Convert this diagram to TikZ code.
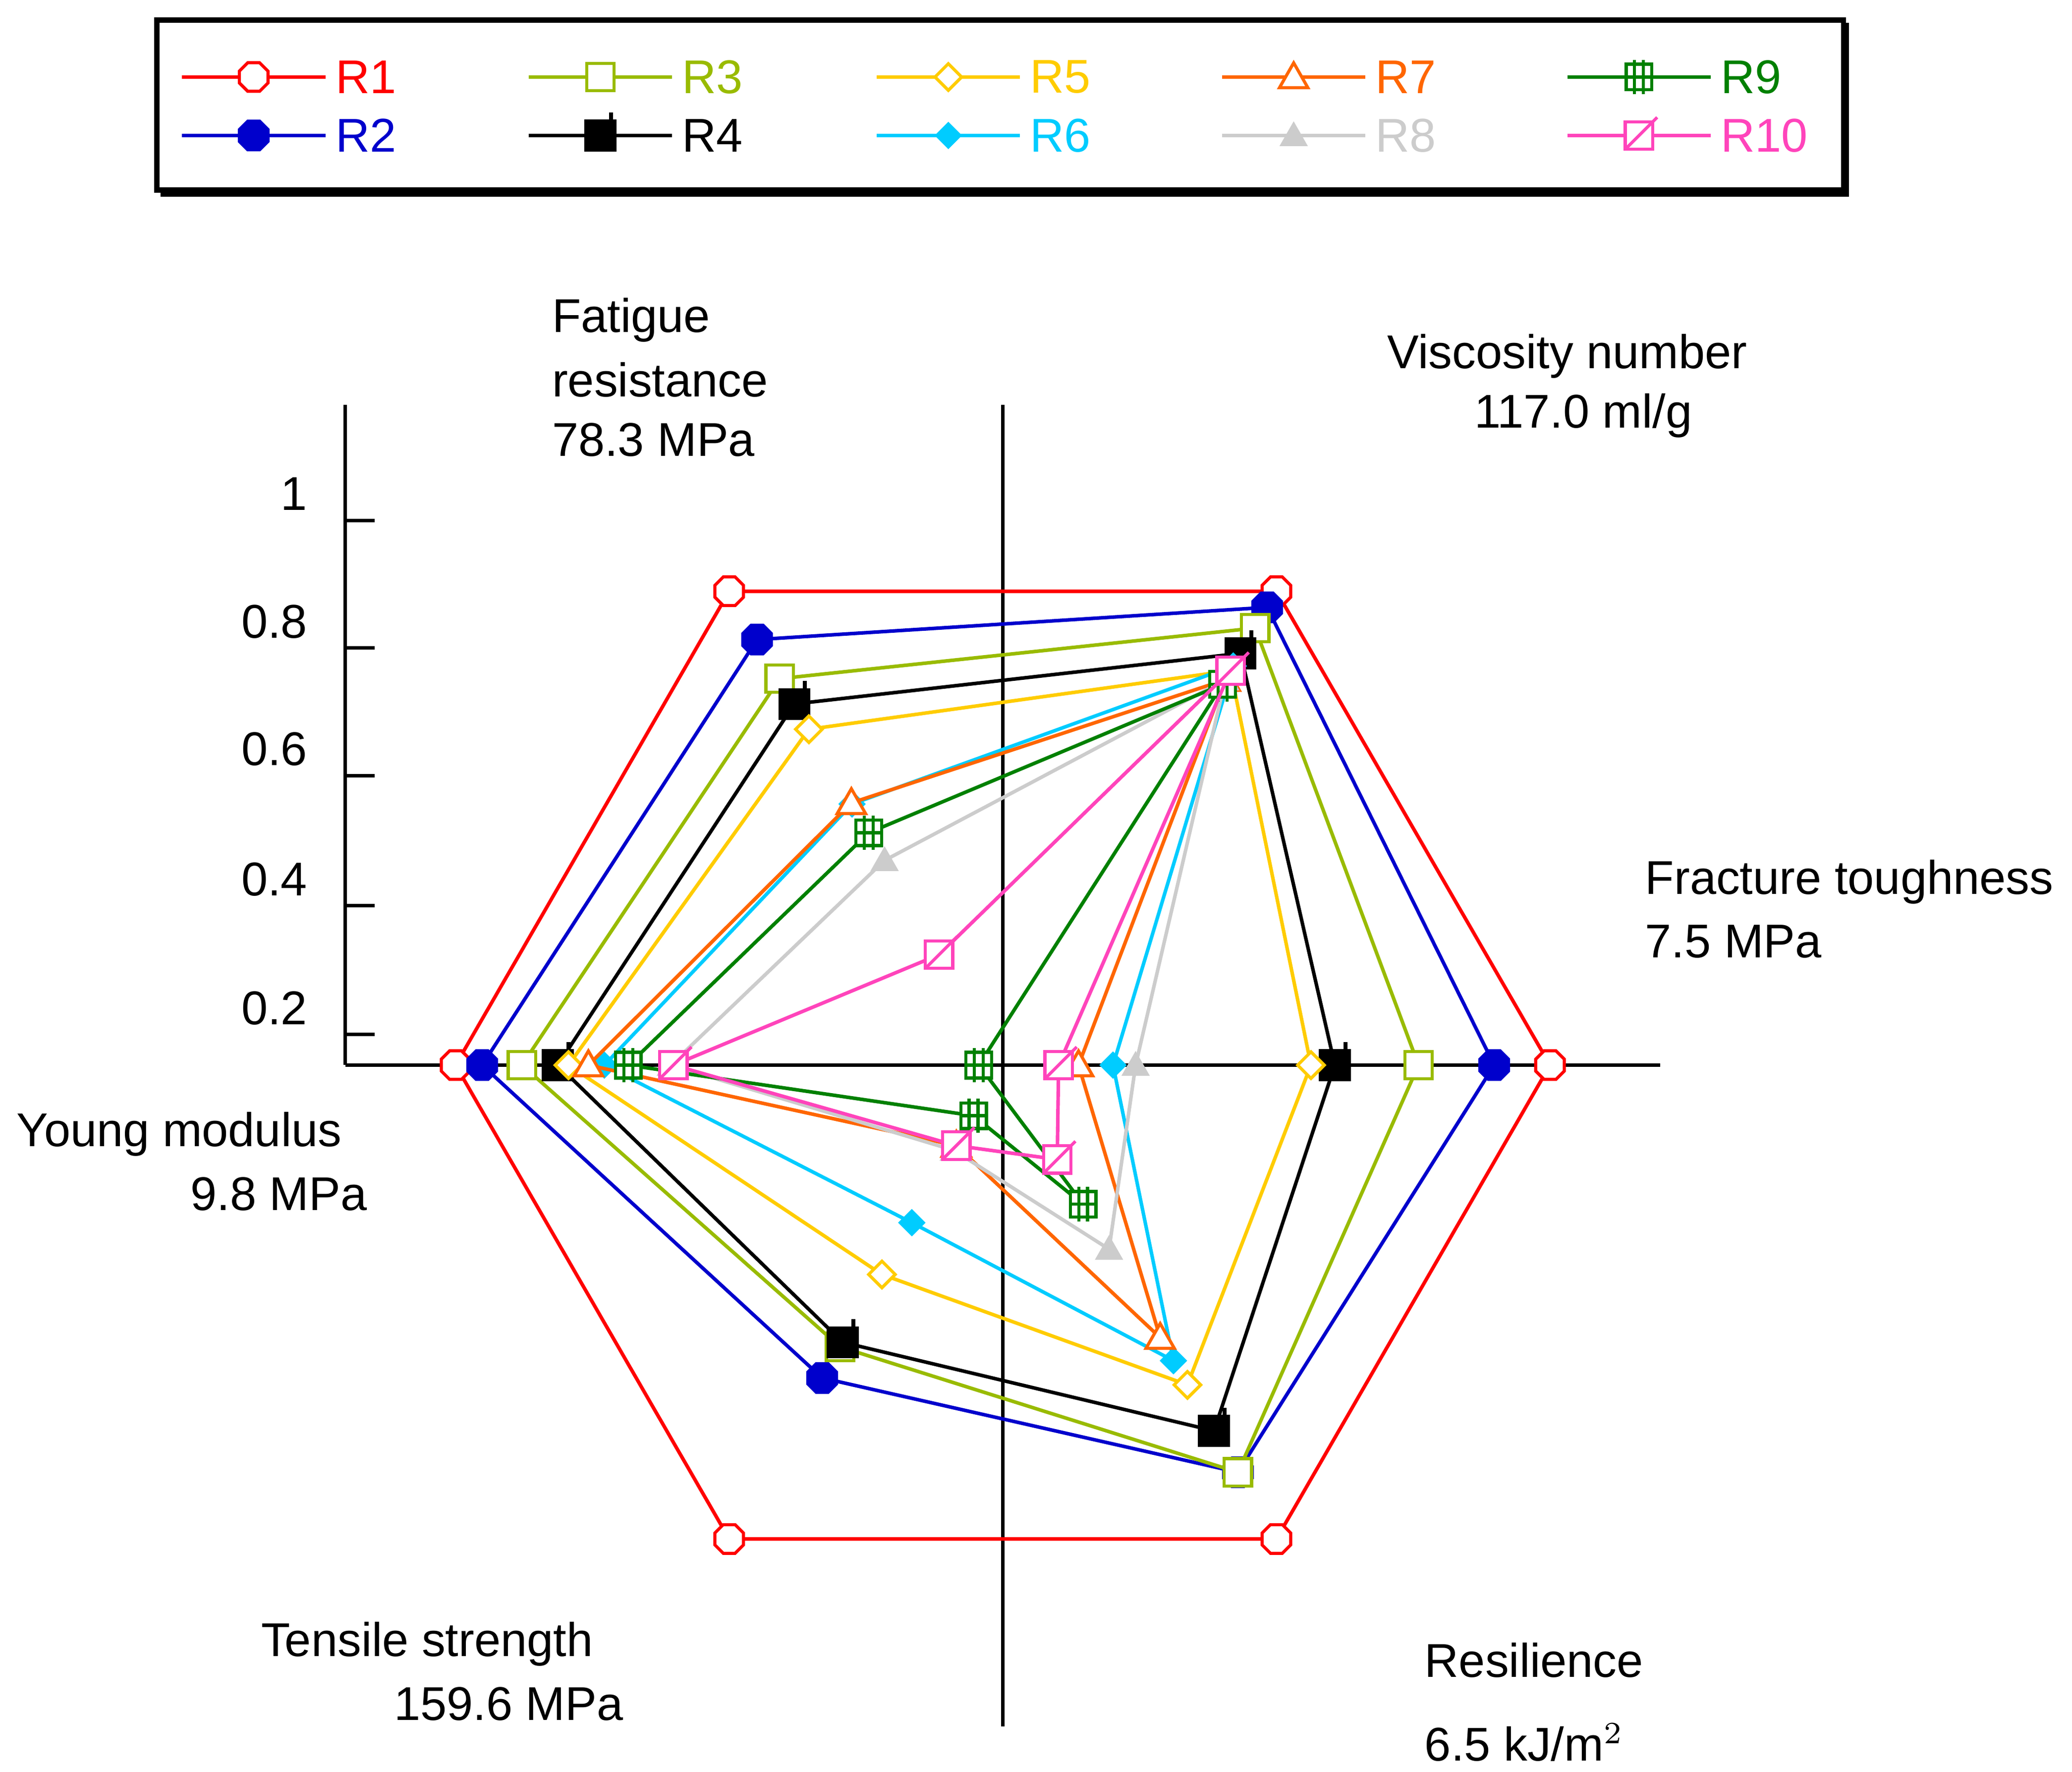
\documentclass[tikz,border=0pt]{standalone}
\usepackage{fontspec}
\setmainfont{Liberation Sans}
\usetikzlibrary{shapes.geometric}
\definecolor{cR1}{HTML}{FF0000}
\definecolor{cR2}{HTML}{0000CC}
\definecolor{cR3}{HTML}{99BB00}
\definecolor{cR4}{HTML}{000000}
\definecolor{cR5}{HTML}{FFCC00}
\definecolor{cR6}{HTML}{00CCFF}
\definecolor{cR7}{HTML}{FF6600}
\definecolor{cR8}{HTML}{CCCCCC}
\definecolor{cR9}{HTML}{008000}
\definecolor{cR10}{HTML}{FF44BB}
\tikzset{
 lbl/.style={font=\fontsize{10.7}{13}\selectfont,inner sep=0pt},
 ser/.style={line width=0.8pt,line join=round},
 axis/.style={line width=0.8pt,black},
 mk1/.pic={\node[regular polygon,regular polygon sides=8,draw=cR1,fill=white,minimum size=7pt,inner sep=0pt,line width=0.7pt]{};},
 mk2/.pic={\node[regular polygon,regular polygon sides=8,draw=cR2,fill=cR2,minimum size=7pt,inner sep=0pt,line width=0.7pt]{};},
 mk3/.pic={\draw[cR3,fill=white,line width=0.7pt](-3.1pt,-3.1pt) rectangle (3.1pt,3.1pt);},
 mk4/.pic={\fill[black](-3.6pt,-3.6pt) rectangle (3.6pt,3.6pt);\draw[black,line width=0.9pt](2.4pt,0pt)--(2.4pt,5.2pt);},
 mk5/.pic={\draw[cR5,fill=white,line width=0.7pt](0,-3pt)--(3pt,0)--(0,3pt)--(-3pt,0)--cycle;},
 mk6/.pic={\fill[cR6](0,-3.1pt)--(3.1pt,0)--(0,3.1pt)--(-3.1pt,0)--cycle;},
 mk7/.pic={\draw[cR7,fill=white,line width=0.7pt](-3.2pt,-2.4pt)--(3.2pt,-2.4pt)--(0,3.2pt)--cycle;},
 mk8/.pic={\fill[cR8](-3.2pt,-2.4pt)--(3.2pt,-2.4pt)--(0,3.2pt)--cycle;},
 mk9/.pic={\draw[cR9,fill=white,line width=0.7pt](-2.9pt,-2.9pt) rectangle (2.9pt,2.9pt);
   \draw[cR9,line width=0.7pt](-1pt,-3.9pt)--(-1pt,3.9pt) (1pt,-3.9pt)--(1pt,3.9pt) (-2.9pt,0)--(2.9pt,0);},
 mk10/.pic={\draw[cR10,fill=white,line width=0.7pt](-3.1pt,-3.1pt) rectangle (3.1pt,3.1pt);
   \draw[cR10,line width=0.7pt](-3.1pt,-3.1pt)--(4.1pt,4.1pt);},
}
\newcommand\radar[3]{%
 \foreach \r [count=\i] in {#3}{%
   \pgfmathsetmacro\a{180-60*\i}%
   \coordinate (p#1-\i) at ({755+\r*cos(\a)},{802-\r*sin(\a)});}
 \draw[ser,c#1] (p#1-1)--(p#1-2)--(p#1-3)--(p#1-4)--(p#1-5)--(p#1-6)--cycle;
 \foreach \i in {1,...,6}{\pic at (p#1-\i) {#2};}
}
\newcommand\legentry[4]{% name, x, y, marker
 \coordinate (l#1a) at (#2,#3); \coordinate (l#1b) at ({#2+108},#3);
 \draw[ser,c#1] (l#1a)--(l#1b);
 \pic at ({#2+54},#3) {#4};
 \node[lbl,anchor=west,text=c#1] (t#1) at ({#2+115},#3) {#1};
}
\begin{document}
\begin{tikzpicture}[x=0.3pt,y=-0.3pt]
\useasboundingbox (0,0) rectangle (1560,1334);
% legend
\draw[line width=1.2pt] (118,15) rectangle (1388,143);
\draw[line width=1.2pt] (1390,17)--(1390,146)--(121,146);
\legentry{R1}{137}{58}{mk1}
\legentry{R2}{137}{102}{mk2}
\legentry{R3}{398}{58}{mk3}
\legentry{R4}{398}{102}{mk4}
\legentry{R5}{660}{58}{mk5}
\legentry{R6}{660}{102}{mk6}
\legentry{R7}{920}{58}{mk7}
\legentry{R8}{920}{102}{mk8}
\legentry{R9}{1180}{58}{mk9}
\legentry{R10}{1180}{102}{mk10}
% axes
\coordinate (vt) at (755,305); \coordinate (vb) at (755,1300);
\coordinate (hl) at (260,802); \coordinate (hr) at (1250,802);
\coordinate (st) at (260,305);
\draw[axis] (vt)--(vb);
\draw[axis] (hl)--(hr);
\draw[axis] (st)--(hl);
\foreach \y/\t in {392/1,488/0.8,584/0.6,682/0.4,779/0.2}{
  \draw[axis] (260,\y)--(282,\y);
  \node[lbl,anchor=east] at (232,\y-20) {\t};}
% series
\radar{R1}{mk1}{412,412,412,412,412,412}
\radar{R2}{mk2}{370,398,370,354,272,392}
\radar{R3}{mk3}{336,380,313,354,245,362}
\radar{R4}{mk4}{314,358,250,318,241,335}
\radar{R5}{mk5}{292,343,232,278,182,327}
\radar{R6}{mk6}{227,347,83,257,137,300}
\radar{R7}{mk7}{228,335,57,237,70,312}
\radar{R8}{mk8}{178,335,100,160,74,250}
\radar{R9}{mk9}{202,331,-18,121,44,282}
\radar{R10}{mk10}{96,343,42,82,70,248}
% axis labels
\node[lbl,anchor=west] (fa1) at (415,241) {Fatigue};
\node[lbl,anchor=west] (fa2) at (415,286) {resistance};
\node[lbl,anchor=west] (fa3) at (415,331) {78.3 MPa};
\node[lbl] (vi1) at (1180,268) {Viscosity number};
\node[lbl] (vi2) at (1192,313) {117.0 ml/g};
\node[lbl,anchor=west] (fr1) at (1238,664) {Fracture toughness};
\node[lbl,anchor=west] (fr2) at (1238,709) {7.5 MPa};
\node[lbl,anchor=west] (yo1) at (12,854) {Young modulus};
\node[lbl,anchor=east] (yo2) at (277,899) {9.8 MPa};
\node[lbl,anchor=west] (te1) at (196,1238) {Tensile strength};
\node[lbl,anchor=west] (te2) at (296,1283) {159.6 MPa};
\node[lbl,anchor=west] (re1) at (1072,1250) {Resilience};
\node[lbl,anchor=west] (re2) at (1072,1312) {6.5 kJ/m$^2$};
\end{tikzpicture}
\end{document}
